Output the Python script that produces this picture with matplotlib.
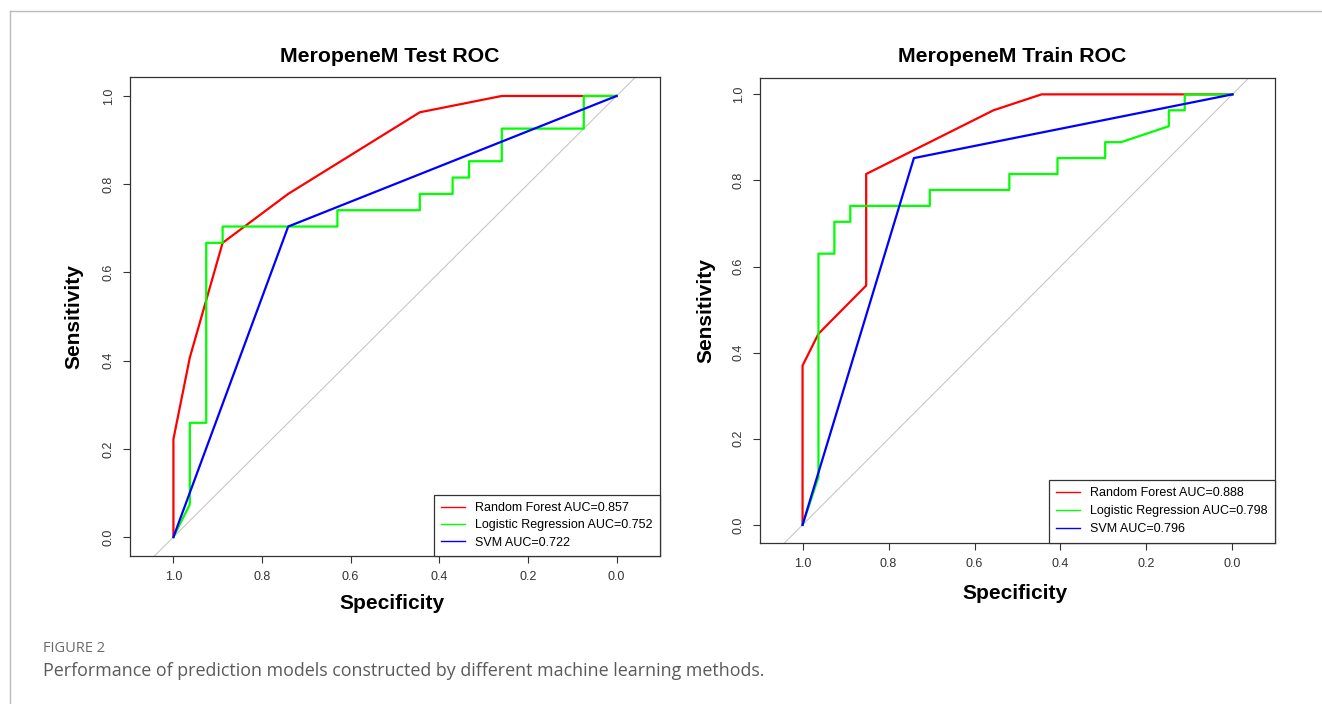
import matplotlib
matplotlib.use("Agg")
import matplotlib.pyplot as plt
from matplotlib.lines import Line2D

# ROC points: (specificity, sensitivity)
test_rf_spec = [1.0, 1.0, 0.963, 0.889, 0.741, 0.444, 0.259, 0.0]
test_rf_sens = [0.0, 0.222, 0.407, 0.667, 0.778, 0.963, 1.0, 1.0]

test_lr_spec = [1.0, 0.963, 0.963, 0.926, 0.926, 0.889, 0.889, 0.630, 0.630, 0.444,
                0.444, 0.370, 0.370, 0.333, 0.333, 0.259, 0.259, 0.074, 0.074, 0.0]
test_lr_sens = [0.0, 0.074, 0.259, 0.259, 0.667, 0.667, 0.704, 0.704, 0.741, 0.741,
                0.778, 0.778, 0.815, 0.815, 0.852, 0.852, 0.926, 0.926, 1.0, 1.0]

test_svm_spec = [1.0, 0.741, 0.0]
test_svm_sens = [0.0, 0.704, 1.0]

train_rf_spec = [1.0, 1.0, 0.963, 0.852, 0.852, 0.556, 0.444, 0.0]
train_rf_sens = [0.0, 0.370, 0.444, 0.556, 0.815, 0.963, 1.0, 1.0]

train_lr_spec = [1.0, 0.963, 0.963, 0.926, 0.926, 0.889, 0.889, 0.704, 0.704, 0.519, 0.519,
                 0.407, 0.407, 0.296, 0.296, 0.259, 0.148, 0.148, 0.111, 0.111, 0.0]
train_lr_sens = [0.0, 0.111, 0.630, 0.630, 0.704, 0.704, 0.741, 0.741, 0.778, 0.778, 0.815,
                 0.815, 0.852, 0.852, 0.889, 0.889, 0.926, 0.963, 0.963, 1.0, 1.0]

train_svm_spec = [1.0, 0.741, 0.0]
train_svm_sens = [0.0, 0.852, 1.0]

test_auc = [0.857, 0.752, 0.722]
train_auc = [0.888, 0.798, 0.796]
models = ["Random Forest", "Logistic Regression", "SVM"]
colors = ["#FF0000", "#00FF00", "#0000FF"]
ticks = [1.0, 0.8, 0.6, 0.4, 0.2, 0.0]

plt.rcParams["font.family"] = ["Liberation Sans", "DejaVu Sans"]

fig = plt.figure(figsize=(13.22, 7.04), dpi=100)
W, H = 1322, 704


def px_axes(left, top, right, bottom):
    return fig.add_axes([left / W, 1 - bottom / H, (right - left) / W, (bottom - top) / H])


def roc_panel(ax, title, curves, aucs, xlim, ylim, title_y, xlab_y, spacing):
    ax.axline((1, 0), (0, 1), color="#C8C8C8", lw=0.8, zorder=1)
    for (sp, se), c in zip(curves, colors):
        ax.plot(sp, se, color=c, lw=1.6, zorder=2)
    ax.set_xlim(*xlim)
    ax.set_ylim(*ylim)
    ax.set_xticks(ticks)
    ax.set_yticks(ticks)
    ax.set_xticklabels(["%.1f" % t for t in ticks])
    ax.set_yticklabels(["%.1f" % t for t in ticks], rotation=90, va="center")
    ax.tick_params(length=5, width=0.8, color="#333333", labelcolor="#333333",
                   labelsize=9, pad=6)
    for s in ax.spines.values():
        s.set_color("#333333")
        s.set_linewidth(0.9)
    ax.text(0.49, title_y, title, transform=ax.transAxes, ha="center", va="center",
            fontsize=15.3, fontweight="bold")
    ax.text(0.495, xlab_y, "Specificity", transform=ax.transAxes, ha="center", va="center",
            fontsize=15, fontweight="bold")
    ax.text(-0.105, 0.5, "Sensitivity", transform=ax.transAxes, ha="center", va="center",
            fontsize=15, fontweight="bold", rotation=90)
    handles = [Line2D([0], [0], color=c, lw=1) for c in colors]
    labels = ["%s AUC=%.3f" % (m, a) for m, a in zip(models, aucs)]
    leg = ax.legend(handles, labels, loc="lower right", borderaxespad=0,
                    fancybox=False, framealpha=1, edgecolor="#333333",
                    fontsize=9, handlelength=1.9, labelspacing=spacing,
                    borderpad=0.6, handletextpad=0.8)
    leg.get_frame().set_linewidth(0.9)


ax1 = px_axes(130, 77, 660, 556)
roc_panel(ax1, "MeropeneM Test ROC",
          [(test_rf_spec, test_rf_sens), (test_lr_spec, test_lr_sens),
           (test_svm_spec, test_svm_sens)],
          test_auc, (1.098, -0.098), (-0.043, 1.043), 1.042, -0.1, 0.42)

ax2 = px_axes(760, 78, 1275, 543)
roc_panel(ax2, "MeropeneM Train ROC",
          [(train_rf_spec, train_rf_sens), (train_lr_spec, train_lr_sens),
           (train_svm_spec, train_svm_sens)],
          train_auc, (1.099, -0.099), (-0.042, 1.038), 1.047, -0.109, 0.5)

# outer frame of the figure panel
fig.add_artist(Line2D([10 / W, 1], [1 - 11 / H, 1 - 11 / H], color="#BBBBBB", lw=1))
fig.add_artist(Line2D([10 / W, 10 / W], [0, 1 - 11 / H], color="#BBBBBB", lw=1))

fig.text(43 / W, 1 - 648 / H, "FIGURE 2", fontsize=10.5, color="#6B6B6B",
         family=["Open Sans", "DejaVu Sans"], va="center")
fig.text(43 / W, 1 - 671 / H,
         "Performance of prediction models constructed by different machine learning methods.",
         fontsize=12.9, color="#5A5A5A", family=["Open Sans", "DejaVu Sans"], va="center")

fig.savefig("out.png", dpi=100)
